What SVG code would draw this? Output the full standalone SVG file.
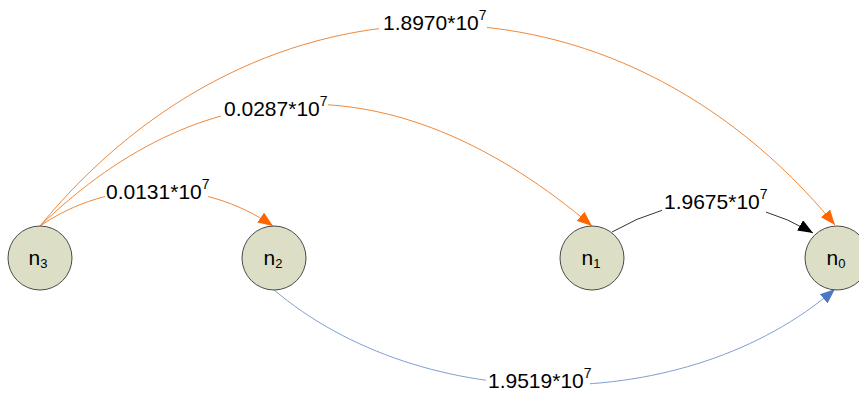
<svg xmlns="http://www.w3.org/2000/svg" width="859" height="396" viewBox="0 0 859 396">
<style>
  .node circle { fill: #dcdec6; stroke: #4a4a4a; stroke-width: 1; }
  .node text { font-family: "Liberation Sans", Arial, sans-serif; font-size: 21px; fill: #000; text-anchor: middle; }
  .sub { font-size: 13px; }
  .edge { fill: none; stroke-width: 1; }
  .orange { stroke: #f0883a; }
  .blue { stroke: #7f9fd0; }
  .black { stroke: #333333; }
  .lbl { font-family: "Liberation Sans", Arial, sans-serif; font-size: 21px; fill: #000; }
  .sup { font-size: 14px; }
  .bg { fill: #ffffff; }
</style>
<defs>
  <marker id="arrO" markerUnits="userSpaceOnUse" markerWidth="16" markerHeight="12" refX="15" refY="6" orient="auto">
    <path d="M0,0 L15,6 L0,12 z" fill="#ff6600"/>
  </marker>
  <marker id="arrB" markerUnits="userSpaceOnUse" markerWidth="16" markerHeight="12" refX="15" refY="6" orient="auto">
    <path d="M0,0 L15,6 L0,12 z" fill="#4a78c4"/>
  </marker>
  <marker id="arrK" markerUnits="userSpaceOnUse" markerWidth="16" markerHeight="12" refX="15" refY="6" orient="auto">
    <path d="M0,0 L15,6 L0,12 z" fill="#000000"/>
  </marker>
</defs>
<rect width="859" height="396" fill="#ffffff"/>
<g id="connectors">
  <path class="edge orange" d="M40,226 C260,-42 615,-42 835,225" marker-end="url(#arrO)"/>
  <path class="edge orange" d="M40,226 C210,62 402,65 592,226" marker-end="url(#arrO)"/>
  <path class="edge orange" d="M40,226 C110,178 203,178 273,226" marker-end="url(#arrO)"/>
  <path class="edge black" d="M612,232 Q712,174 813,233" marker-end="url(#arrK)"/>
  <path class="edge blue" d="M273,289 C423,417 687,417 835,289" marker-end="url(#arrB)"/>
  <g id="labels">
    <rect class="bg" x="379" y="8" width="108" height="26"/>
    <text class="lbl" x="383" y="30">1.8970*10<tspan class="sup" dy="-10">7</tspan></text>
    <rect class="bg" x="221" y="94" width="107" height="26"/>
    <text class="lbl" x="224" y="116">0.0287*10<tspan class="sup" dy="-10">7</tspan></text>
    <rect class="bg" x="105" y="179" width="103" height="24"/>
    <text class="lbl" x="106" y="199">0.0131*10<tspan class="sup" dy="-10">7</tspan></text>
    <rect class="bg" x="662" y="187" width="104" height="26"/>
    <text class="lbl" x="664" y="209">1.9675*10<tspan class="sup" dy="-10">7</tspan></text>
    <rect class="bg" x="486" y="367" width="104" height="26"/>
    <text class="lbl" x="488" y="388">1.9519*10<tspan class="sup" dy="-10">7</tspan></text>
  </g>
</g>
<g id="n3" class="node">
  <circle cx="40" cy="258" r="32"/>
  <text x="38" y="265">n<tspan class="sub" dy="3">3</tspan></text>
</g>
<g id="n2" class="node">
  <circle cx="274" cy="258" r="32"/>
  <text x="273" y="265">n<tspan class="sub" dy="3">2</tspan></text>
</g>
<g id="n1" class="node">
  <circle cx="592" cy="258" r="32"/>
  <text x="591" y="265">n<tspan class="sub" dy="3">1</tspan></text>
</g>
<g id="n0" class="node">
  <circle cx="837" cy="258" r="32"/>
  <text x="836" y="265">n<tspan class="sub" dy="3">0</tspan></text>
</g>
</svg>
